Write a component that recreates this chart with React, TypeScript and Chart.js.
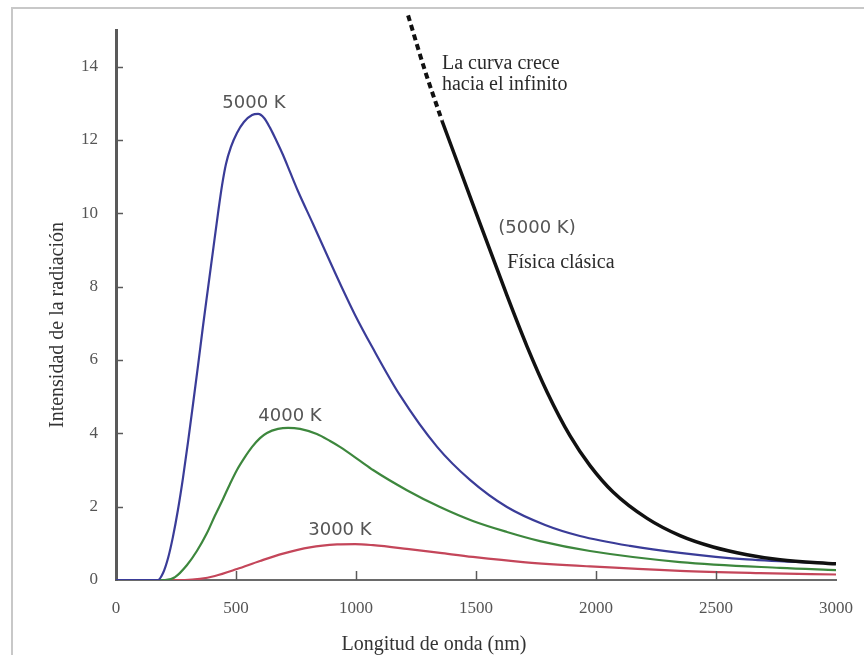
import React, { useEffect, useRef } from "react";
import { Chart, registerables } from "chart.js";
Chart.register(...registerables);

// Wavelength (nm) / intensity pairs
const nm5000 = [0, 100, 175, 196, 217, 237, 258, 279, 300, 321, 342, 362, 383, 404, 425, 442, 458, 479, 504, 533, 567, 592, 617, 642, 667, 696, 725, 758, 821, 883, 946, 996, 1067, 1183, 1338, 1475, 1629, 1788, 1933, 2142, 2350, 2629, 3000];
const val5000 = [0, 0, 0, 0.19, 0.6, 1.17, 1.91, 2.78, 3.76, 4.8, 5.86, 6.9, 7.94, 8.97, 10.0, 10.77, 11.34, 11.81, 12.19, 12.49, 12.68, 12.71, 12.6, 12.33, 12.0, 11.59, 11.13, 10.61, 9.71, 8.81, 7.91, 7.23, 6.36, 5.04, 3.63, 2.73, 1.99, 1.5, 1.2, 0.93, 0.74, 0.56, 0.45];

const nm4000 = [0, 100, 204, 246, 296, 337, 379, 412, 446, 475, 504, 537, 567, 600, 629, 675, 717, 767, 837, 892, 933, 1017, 1071, 1212, 1350, 1487, 1629, 1767, 1975, 2350, 2767, 3000];
const val4000 = [0, 0, 0, 0.08, 0.41, 0.79, 1.28, 1.75, 2.21, 2.62, 3.0, 3.35, 3.63, 3.87, 4.01, 4.12, 4.15, 4.12, 3.98, 3.79, 3.63, 3.25, 3.0, 2.45, 1.99, 1.61, 1.31, 1.06, 0.79, 0.49, 0.33, 0.27];

const nm3000 = [0, 100, 287, 350, 412, 504, 600, 696, 808, 921, 996, 1071, 1212, 1350, 1487, 1696, 1975, 2350, 2683, 3000];
const val3000 = [0, 0, 0, 0.03, 0.11, 0.3, 0.52, 0.72, 0.89, 0.97, 0.98, 0.95, 0.85, 0.74, 0.63, 0.49, 0.37, 0.25, 0.19, 0.15];

const nmClassicDashed = [1217, 1287, 1358];
const valClassicDashed = [15.4, 13.9, 12.53];

const nmClassic = [1358, 1479, 1629, 1712, 1796, 1892, 1975, 2071, 2213, 2350, 2488, 2629, 2767, 3000];
const valClassic = [12.53, 10.39, 7.76, 6.38, 5.13, 3.93, 3.12, 2.4, 1.68, 1.21, 0.9, 0.69, 0.55, 0.44];

const xTickMarks = [500, 1000, 1500, 2000, 2500];
const yTickMarks = [2, 4, 6, 8, 10, 12, 14];

const curveLabels = ["5000 K", "4000 K", "3000 K", "(5000 K)"];
const curveLabelX = [575, 725, 933, 1754];
const curveLabelY = [13.0, 4.47, 1.36, 9.6];

const noteLabels = ["La curva crece", "hacia el infinito", "Física clásica"];
const noteLabelX = [1358, 1358, 1854];
const noteLabelY = [14.08, 13.5, 8.64];

const xTitle = "Longitud de onda (nm)";
const yTitle = "Intensidad de la radiación";

const pts = (xs: number[], ys: number[]) => xs.map((x, i) => ({ x, y: ys[i] }));

const SERIF = "'Liberation Serif', 'DejaVu Serif', serif";
const SANS = "'DejaVu Sans', 'Liberation Sans', sans-serif";

const overlay = {
  id: "overlay",
  afterDatasetsDraw(chart: any) {
    const { ctx, scales, chartArea } = chart;
    const xs = scales.x;
    const ys = scales.y;
    ctx.save();
    // inner tick marks
    ctx.strokeStyle = "#5a5a5a";
    ctx.lineWidth = 1.5;
    yTickMarks.forEach((v) => {
      const py = Math.round(ys.getPixelForValue(v)) + 0.5;
      ctx.beginPath();
      ctx.moveTo(chartArea.left, py);
      ctx.lineTo(chartArea.left + 7, py);
      ctx.stroke();
    });
    xTickMarks.forEach((v) => {
      const px = Math.round(xs.getPixelForValue(v)) + 0.5;
      ctx.beginPath();
      ctx.moveTo(px, chartArea.bottom);
      ctx.lineTo(px, chartArea.bottom - 9);
      ctx.stroke();
    });
    // curve labels
    ctx.textAlign = "center";
    ctx.textBaseline = "middle";
    ctx.fillStyle = "#555";
    ctx.font = `18px ${SANS}`;
    curveLabels.forEach((t, i) => {
      ctx.fillText(t, xs.getPixelForValue(curveLabelX[i]), ys.getPixelForValue(curveLabelY[i]));
    });
    // notes
    ctx.fillStyle = "#2a2a2a";
    ctx.font = `20px ${SERIF}`;
    noteLabels.forEach((t, i) => {
      ctx.textAlign = i === 2 ? "center" : "left";
      ctx.fillText(t, xs.getPixelForValue(noteLabelX[i]), ys.getPixelForValue(noteLabelY[i]));
    });
    // axis titles
    ctx.fillStyle = "#333";
    ctx.font = `20px ${SERIF}`;
    ctx.textAlign = "center";
    ctx.fillText(xTitle, chartArea.left + 318, chartArea.bottom + 65);
    ctx.save();
    ctx.translate(chartArea.left - 58, chartArea.top + 295);
    ctx.rotate(-Math.PI / 2);
    ctx.fillText(yTitle, 0, 0);
    ctx.restore();
    ctx.restore();
  },
};

export default function App() {
  const ref = useRef<HTMLCanvasElement | null>(null);
  useEffect(() => {
    if (!ref.current) return;
    const chart = new Chart(ref.current, {
      type: "line",
      data: {
        datasets: [
          {
            data: pts(nmClassicDashed, valClassicDashed),
            borderColor: "#111",
            borderWidth: 4,
            borderDash: [6, 4],
            pointRadius: 0,
            cubicInterpolationMode: "monotone",
            clip: false,
          } as any,
          {
            data: pts(nmClassic, valClassic),
            borderColor: "#111",
            borderWidth: 3.5,
            pointRadius: 0,
            cubicInterpolationMode: "monotone",
          },
          {
            data: pts(nm5000, val5000),
            borderColor: "#3a3c98",
            borderWidth: 2.2,
            pointRadius: 0,
            cubicInterpolationMode: "monotone",
          },
          {
            data: pts(nm4000, val4000),
            borderColor: "#3d873d",
            borderWidth: 2.2,
            pointRadius: 0,
            cubicInterpolationMode: "monotone",
          },
          {
            data: pts(nm3000, val3000),
            borderColor: "#c4465a",
            borderWidth: 2.2,
            pointRadius: 0,
            cubicInterpolationMode: "monotone",
          },
        ],
      },
      options: {
        responsive: false,
        animation: false,
        layout: { padding: { left: 0, right: 28, top: 30, bottom: 0 } },
        plugins: { legend: { display: false }, tooltip: { enabled: false } },
        scales: {
          x: {
            type: "linear",
            min: 0,
            max: 3000,
            ticks: {
              stepSize: 500,
              padding: 18,
              color: "#555",
              font: { family: SERIF, size: 17 },
              maxRotation: 0,
              callback: (v: any) => String(v),
            },
            grid: { display: true, drawOnChartArea: false, drawTicks: false },
            border: { display: true, color: "#6a6a6a", width: 2 },
            afterFit: (s: any) => {
              s.height = 75;
              s.paddingLeft = 0;
              s.paddingRight = 0;
            },
          },
          y: {
            type: "linear",
            min: 0,
            max: 15,
            ticks: {
              stepSize: 2,
              includeBounds: false,
              padding: 18,
              color: "#555",
              font: { family: SERIF, size: 17 },
              callback: (v: any) => String(v),
            },
            grid: { display: true, drawOnChartArea: false, drawTicks: false },
            border: { display: true, color: "#5a5a5a", width: 3 },
            afterFit: (s: any) => {
              s.width = 116;
              s.paddingTop = 0;
              s.paddingBottom = 0;
            },
          },
        },
      },
      plugins: [overlay],
    });
    return () => chart.destroy();
  }, []);
  return (
    <div style={{ position: "fixed", left: 0, top: 0, width: 864, height: 655, background: "#fff" }}>
      <div
        style={{
          position: "absolute",
          left: 11,
          top: 7,
          width: 900,
          height: 700,
          borderLeft: "2px solid #c8c8c8",
          borderTop: "2px solid #c8c8c8",
        }}
      />
      <canvas ref={ref} width={864} height={655} style={{ position: "absolute", left: 0, top: 0 }} />
    </div>
  );
}
